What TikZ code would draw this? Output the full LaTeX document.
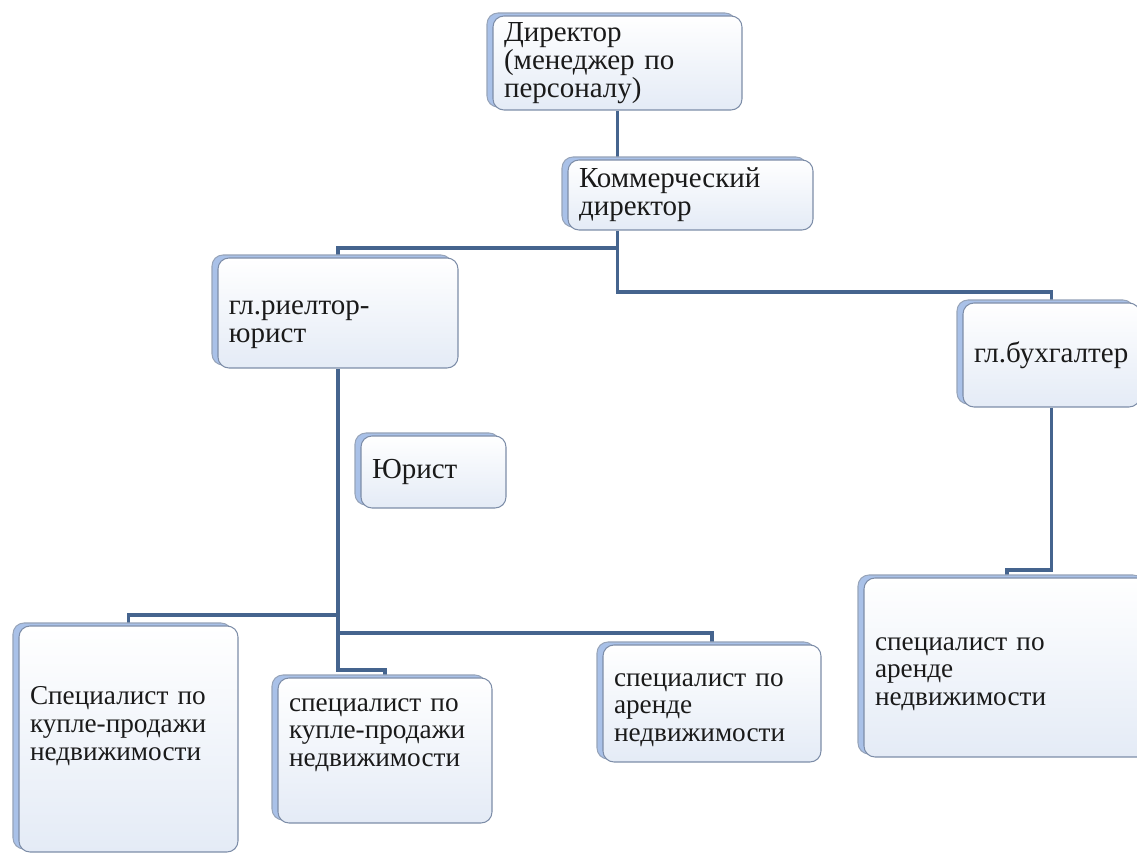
\documentclass[tikz,border=0pt]{standalone}
\usepackage{fontspec}
\setmainfont{Liberation Serif}
\newfontfamily\boxfont{Liberation Serif}
\usetikzlibrary{positioning,shadows,backgrounds}
\definecolor{linkblue}{HTML}{45648E}
\definecolor{edgegray}{HTML}{7D8DA8}
\definecolor{shadeblue}{HTML}{A9C1E8}
\definecolor{tint}{HTML}{E4EBF6}
\definecolor{inkgray}{HTML}{1A1A1A}

\begin{document}
\begin{tikzpicture}[
    x=1mm, y=-1mm,
    box/.style={rectangle, rounded corners=2.2mm, draw=edgegray, semithick, top color=white, bottom color=tint,
        general shadow={fill=shadeblue, draw=edgegray!80, shadow xshift=-1.2mm, shadow yshift=0.6mm},
        align=left, inner xsep=2.2mm, inner ysep=1mm, text=inkgray, font=\boxfont\fontsize{16.5}{15.8}\selectfont},
    spec/.style={box, font=\boxfont\fontsize{15.5}{15.8}\selectfont},
    link/.style={draw=linkblue, line width=0.65mm}
]
    \useasboundingbox (0,0) rectangle (227.4,170.8);

    % Top of the tree
    \node[box, text width=45.4mm, minimum height=18.8mm] (director) at (123.5,12.6) {Директор\\(менеджер по\\персоналу)};
    \node[box, text width=44.6mm, minimum height=14mm] (kommerch) at (138.1,39) {Коммерческий\\директор};

    % Second level
    \node[box, text width=43.6mm, minimum height=22mm, text depth=2mm] (realtor) at (67.6,62.6) {гл.риелтор-\\юрист};
    \node[box, text width=31mm, minimum height=20.8mm] (buh) at (210.3,71) {гл.бухгалтер};
    \node[box, text width=24.6mm, minimum height=14.4mm] (yurist) at (86.7,94.4) {Юрист};

    % Specialists
    \node[spec, text width=39.4mm, minimum height=45.2mm, text depth=17.3mm] (spec1) at (25.7,147.8) {Специалист по\\купле-продажи\\недвижимости};
    \node[spec, text width=38.4mm, minimum height=29mm, text depth=18.3mm] (spec2) at (77,150.1) {специалист по\\купле-продажи\\недвижимости};
    \node[spec, text width=39.2mm, minimum height=23.4mm, text depth=9.5mm] (spec3) at (142.4,140.7) {специалист по\\аренде\\недвижимости};
    \node[spec, text width=52.8mm, minimum height=35.8mm, text depth=9.5mm] (spec4) at (201.4,133.5) {специалист по\\аренде\\недвижимости};

    \begin{scope}[on background layer]
        % Connectors from the top
        \draw[link] (director.south) -- (director.south |- kommerch.north);
        \draw[link] (director.south |- kommerch.south) -- (director.south |- 0,49.6) -| (realtor.north);
        \draw[link] (director.south |- 0,49.6) -- (director.south |- 0,58.4) -| (buh.north);
        \draw[link] (buh.south) -- (buh.south |- 0,114) -| (spec4.north);

        % Connectors from the realtor
        \draw[link] (realtor.south) -- (realtor.south |- 0,134) -| (spec2.north);
        \draw[link] (realtor.south |- 0,123) -| (spec1.north);
        \draw[link] (realtor.south |- 0,126.6) -| (spec3.north);
    \end{scope}
\end{tikzpicture}
\end{document}
